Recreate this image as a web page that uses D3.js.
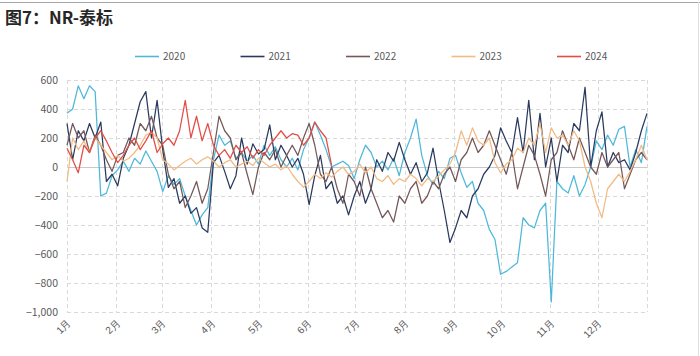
<!DOCTYPE html>
<html><head><meta charset="utf-8">
<script src="https://cdn.jsdelivr.net/npm/d3@7"></script>
<style>
html,body{margin:0;padding:0;background:#fff;}
svg{display:block;font-family:"Noto Sans CJK SC","Noto Sans",sans-serif;}
</style></head>
<body>
<svg id="c" width="700" height="356"></svg>
<script>
const title = "图7：NR-泰标";
const seriesNames = ["2020","2021","2022","2023","2024"];
const seriesColors = ["#4FB8DA","#2A3A5E","#74585A","#F2BA84","#E24E46"];
const yTicks = [600,400,200,0,-200,-400,-600,-800,-1000];
const monthLabels = ["1月","2月","3月","4月","5月","6月","7月","8月","9月","10月","11月","12月"];

const v2020 = [370,400,560,470,560,520,-200,-180,-60,-20,40,-30,60,20,110,40,-30,-170,-60,-120,-80,-200,-300,-400,-330,-280,50,220,150,180,60,100,40,80,20,150,80,140,50,0,60,-20,120,200,310,220,120,0,20,40,10,-80,50,150,100,0,40,-20,60,-60,100,200,330,80,-60,-120,-30,-80,60,80,-40,-140,-100,-250,-300,-430,-500,-740,-720,-690,-660,-350,-400,-420,-300,-250,-930,-100,-150,-180,-60,-200,-120,0,180,120,220,150,260,280,0,120,30,280];
const v2021 = [300,50,250,180,300,200,310,-100,-50,-130,60,150,300,450,520,200,460,120,-140,-80,-250,-200,-320,-280,-420,-450,30,80,-30,-150,-60,200,20,160,90,120,290,50,150,80,0,60,-50,-260,-60,80,-150,-100,-250,-200,-330,-200,-100,-250,-150,50,-30,100,40,170,50,-50,30,-100,-40,130,-100,-300,-520,-420,-300,-350,-200,-150,-50,0,80,270,180,100,340,100,460,50,370,0,200,-100,150,100,300,250,550,0,250,380,0,100,30,50,-20,100,250,370];
const v2022 = [150,300,200,250,100,220,150,50,-30,80,100,200,150,300,250,350,200,150,-50,-150,-100,-280,-200,-100,-250,-150,100,350,250,200,50,100,-50,-190,0,100,50,120,0,80,150,80,200,300,150,-50,-100,0,-150,-250,-50,-100,-200,0,-150,-250,-350,-300,-380,-200,-250,-150,-100,-250,-200,-100,-150,-50,0,-100,50,100,200,100,150,250,150,50,-50,100,-150,0,150,80,-50,-200,50,100,250,150,50,200,100,0,-50,100,0,50,100,-150,-50,50,100,50];
const v2023 = [-100,200,120,180,100,200,150,100,50,80,40,60,100,150,220,240,200,50,20,-20,10,40,60,20,50,70,40,0,30,50,0,20,40,10,60,30,0,20,-20,10,-50,-100,-140,-100,-50,-80,-40,-70,-30,0,-50,-30,20,-40,0,-80,-100,-60,-120,-80,-100,-50,-80,-130,-80,-100,-60,-20,20,100,250,150,270,180,150,200,30,-40,20,50,130,100,200,150,300,100,270,200,220,150,250,180,0,-100,-250,-350,-150,-100,-50,-100,-30,50,150,50];
const v2024 = [130,50,-40,150,100,200,250,180,100,30,80,150,200,120,180,250,100,160,200,150,250,460,200,350,180,300,150,80,120,60,150,100,140,60,120,80,150,200,250,200,230,220,150,200,310,250,200,10];
const seriesValues = [v2020,v2021,v2022,v2023,v2024];
const pointsPerYear = 104;

(function(){
const svg = d3.select("#c");
const W = 700, H = 356;
const pL = 67, pR = 647, pT = 80, pB = 312;

svg.append("line").attr("x1",0).attr("x2",W).attr("y1",2.5).attr("y2",2.5).attr("stroke","#a6a6a6").attr("stroke-width",1);
svg.append("line").attr("x1",698.5).attr("x2",698.5).attr("y1",2).attr("y2",H).attr("stroke","#e0e0e0").attr("stroke-width",1);

svg.append("text").attr("x",5).attr("y",24).attr("font-size",17).attr("font-weight","bold").attr("fill","#262626").text(title);

const start = new Date(2024,0,1), end = new Date(2025,0,1);
const x = d3.scaleTime().domain([start,end]).range([pL,pR]);
const y = d3.scaleLinear().domain([-1000,600]).range([pB,pT]);
const idx = d3.scaleLinear().domain([0,pointsPerYear-1]).range([pL,pR]);
const months = d3.timeMonth.range(start,end);

svg.append("g").selectAll("line").data(yTicks).join("line")
  .attr("x1",pL).attr("x2",pR)
  .attr("y1",d=>Math.round(y(d))+0.5).attr("y2",d=>Math.round(y(d))+0.5)
  .attr("stroke",d=>d===0?"#c8c8c8":"#d9d9d9")
  .attr("stroke-dasharray",d=>d===0?null:"4,3")
  .attr("stroke-width",1);

svg.append("g").selectAll("line").data(months.concat([end])).join("line")
  .attr("x1",d=>Math.round(x(d))+0.5).attr("x2",d=>Math.round(x(d))+0.5)
  .attr("y1",pT).attr("y2",pB)
  .attr("stroke","#d9d9d9").attr("stroke-dasharray","4,3").attr("stroke-width",1);

const yAxis = d3.axisLeft(y).tickValues(yTicks).tickSize(0).tickPadding(0);
const gy = svg.append("g").attr("transform",`translate(${pL-9},0)`).call(yAxis);
gy.select(".domain").remove();
gy.selectAll("text").attr("font-size",10.5).attr("fill","#595959").attr("font-family","'Noto Sans CJK SC',sans-serif");

const xAxis = d3.axisBottom(x).tickValues(months).tickSize(0).tickPadding(0).tickFormat((d,i)=>monthLabels[i]);
const gx = svg.append("g").attr("transform",`translate(0,${pB+9})`).call(xAxis);
gx.select(".domain").remove();
gx.selectAll("text").attr("font-size",10).attr("fill","#595959")
  .attr("text-anchor","end").attr("dy","0.35em").attr("dx","0")
  .attr("transform","rotate(-45)").attr("y",0).attr("x",0);
gx.selectAll(".tick").attr("transform",d=>`translate(${x(d)+2},0)`);

const line = d3.line().x((d,i)=>idx(i)).y(d=>y(d)).curve(d3.curveLinear);
seriesValues.forEach((vals,k)=>{
  svg.append("path").datum(vals).attr("d",line)
    .attr("fill","none").attr("stroke",seriesColors[k]).attr("stroke-width",1.25)
    .attr("stroke-linejoin","round");
});

const lg = svg.append("g");
seriesNames.forEach((n,k)=>{
  const lx = 135 + k*105.5;
  lg.append("line").attr("x1",lx).attr("x2",lx+24).attr("y1",56.5).attr("y2",56.5)
    .attr("stroke",seriesColors[k]).attr("stroke-width",1.6);
  lg.append("text").attr("x",lx+28).attr("y",56.5).attr("dy","0.35em")
    .attr("font-size",10).attr("fill","#595959").text(n);
});
})();
</script>
</body></html>
